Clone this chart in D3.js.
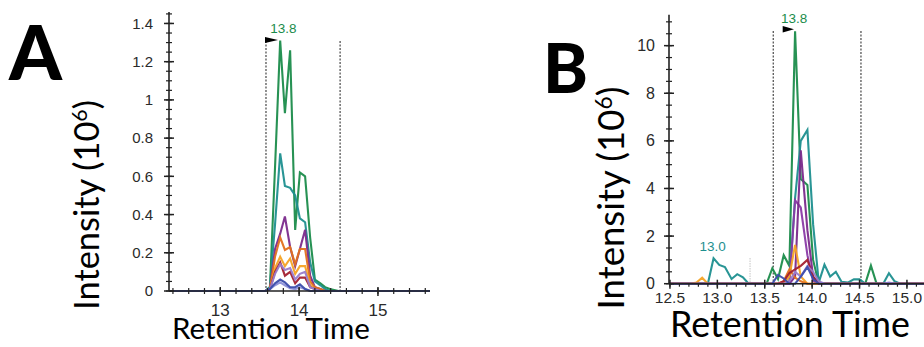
<!DOCTYPE html>
<html><head><meta charset="utf-8">
<script src="https://cdn.jsdelivr.net/npm/d3@7"></script>
<style>
html,body{margin:0;padding:0;background:#fff;}
svg{display:block;}
</style></head>
<body>
<svg id="chart" width="924" height="347"></svg>
<script>
// ---------------- DATA ----------------
// Panel A (retention time, intensity in 10^6)
const aTime = [12.35, 13.50, 13.57, 13.63, 13.695, 13.76, 13.82, 13.886, 13.95, 14.01, 14.076, 14.14, 14.20, 14.27, 14.33, 14.39, 14.50, 15.66];
const aGreen   = [0, 0, 0, 0.02, 0.65, 1.31, 0.93, 1.26, 0.32, 0.62, 0.60, 0.28, 0.06, 0.04, 0.02, 0.01, 0, 0];
const aTeal    = [0, 0, 0, 0.02, 0.35, 0.72, 0.55, 0.54, 0.50, 0.38, 0.36, 0.15, 0.05, 0.03, 0.01, 0, 0, 0];
const aPurple  = [0, 0, 0, 0.01, 0.22, 0.30, 0.39, 0.23, 0.13, 0.22, 0.32, 0.08, 0.02, 0.01, 0, 0, 0, 0];
const aOrange  = [0, 0, 0, 0.01, 0.18, 0.28, 0.215, 0.23, 0.14, 0.22, 0.22, 0.05, 0.02, 0.01, 0, 0, 0, 0];
const aYellow  = [0, 0, 0, 0.01, 0.12, 0.18, 0.13, 0.17, 0.09, 0.13, 0.13, 0.03, 0.01, 0, 0, 0, 0, 0];
const aRed     = [0, 0, 0, 0.01, 0.10, 0.15, 0.08, 0.10, 0.04, 0.07, 0.07, 0.02, 0.01, 0, 0, 0, 0, 0];
const aLilac   = [0, 0, 0, 0.01, 0.09, 0.14, 0.11, 0.12, 0.06, 0.09, 0.10, 0.02, 0.01, 0, 0, 0, 0, 0];
const aSky     = [0, 0, 0, 0.01, 0.03, 0.045, 0.03, 0.015, 0.01, 0.02, 0.01, 0, 0, 0, 0, 0, 0, 0];
const aBlue    = [0, 0, 0, 0.01, 0.04, 0.06, 0.045, 0.02, 0.02, 0.035, 0.01, 0, 0, 0, 0, 0, 0, 0];
const aWindow = [13.58, 14.52];
const aApex = 13.8;

// Panel B
const bTime = [12.49, 12.72, 12.78, 12.84, 12.90, 12.96, 13.02, 13.08, 13.15, 13.21, 13.27, 13.33, 13.39, 13.45,
               13.52, 13.58, 13.64, 13.70, 13.76, 13.82, 13.88, 13.95, 14.01, 14.07, 14.13, 14.19, 14.25, 14.31,
               14.38, 14.44, 14.50, 14.56, 14.62, 14.68, 14.75, 14.81, 14.87, 14.93, 15.18];
const bGreen   = [0,0,0,0,0,0,0,0,0,0,0,0,0,0, 0,0.65,0.2,1.2,0.75,10.6,4.4,4.15,1.0,0,0,0,0,0, 0,0,0,0,0.76,0,0,0,0,0,0];
const bTeal    = [0,0,0,0,0,1.07,0.79,0.70,0.20,0.40,0.27,0,0,0, 0,0,0,0,0.05,3.6,6.0,6.46,2.5,0.05,0.8,0.3,0.5,0.08, 0.05,0.18,0.18,0,0,0,0,0.44,0.1,0,0];
const bPurple  = [0,0,0,0,0,0,0,0,0,0,0,0,0,0, 0,0,0,0,0,0.3,5.6,2.25,0.3,0,0,0,0,0, 0,0,0,0,0,0,0,0,0,0,0];
const bViolet  = [0,0,0,0,0,0,0,0,0,0,0,0,0,0, 0,0,0,0,0,3.5,3.2,1.2,0.1,0,0,0,0,0, 0,0,0,0,0,0,0,0,0,0,0];
const bYellow  = [0,0,0.05,0.25,0,0,0,0,0,0,0,0,0,0, 0,0,0,0,0.3,1.63,0.3,0,0,0,0,0,0,0, 0,0,0,0,0,0,0,0,0,0,0];
const bOrange  = [0,0,0,0,0,0,0,0,0,0,0,0,0,0, 0,0,0,0.1,0.6,0.25,0.1,0,0,0,0,0,0,0, 0,0,0,0,0,0,0,0,0,0,0];
const bRed     = [0,0,0,0,0,0,0,0,0,0,0,0,0,0, 0,0,0,0.1,0.45,0.6,0.75,1.0,0.3,0,0,0,0,0, 0,0,0,0,0,0,0,0,0,0,0];
const bLilac   = [0,0,0,0,0,0,0,0,0,0,0,0,0,0, 0,0,0,0,0.1,0.5,0.3,0.75,0.5,0.1,0,0,0,0, 0,0,0,0,0,0,0,0.05,0,0,0];
const bBlue    = [0,0,0,0,0,0,0,0,0,0,0,0,0,0, 0,0,0.37,0.22,0,0,0.3,0.7,0.2,0,0,0,0,0, 0,0,0,0,0,0,0,0,0,0,0];
const bWindow = [13.59, 14.515];
const bApex = 13.82;
const bOtherApex = 12.96;
const bFaint = 13.345;

// Tick labels
const aXTicks = [13, 14, 15];
const aYTicks = [0, 0.2, 0.4, 0.6, 0.8, 1, 1.2, 1.4];
const bXTicks = [12.5, 13.0, 13.5, 14.0, 14.5, 15.0];
const bYTicks = [0, 2, 4, 6, 8, 10];

const colors = {green:"#1b8c4b", teal:"#1e8f8f", purple:"#7b2a8c", violet:"#8a3aa6", orange:"#e2701d",
                yellow:"#f5a324", red:"#a3202f", lilac:"#9a7cc9", sky:"#8c90d8", blue:"#3c4dab"};

const aSeries = [
  {v:aGreen, c:colors.green}, {v:aTeal, c:colors.teal}, {v:aPurple, c:colors.purple},
  {v:aOrange, c:colors.orange}, {v:aYellow, c:colors.yellow}, {v:aRed, c:colors.red},
  {v:aLilac, c:colors.lilac}, {v:aSky, c:colors.sky}, {v:aBlue, c:colors.blue}];
const bSeries = [
  {v:bGreen, c:colors.green}, {v:bTeal, c:colors.teal}, {v:bViolet, c:colors.violet},
  {v:bPurple, c:colors.purple}, {v:bYellow, c:colors.yellow}, {v:bOrange, c:colors.orange},
  {v:bRed, c:colors.red}, {v:bLilac, c:colors.lilac}, {v:bBlue, c:colors.blue}];

// ---------------- DRAW ----------------
const svg = d3.select("#chart");
const tickFont = "'Liberation Sans', Arial, sans-serif";
const titleFont = "Lato, 'Open Sans', sans-serif";

function fitWidth(sel, target){
  const w = sel.node().getComputedTextLength();
  const fs = parseFloat(sel.attr("font-size"));
  sel.attr("font-size", fs * target / w);
}

function panel(cfg){
  const g = svg.append("g");
  const x = d3.scaleLinear().domain(cfg.xDom).range(cfg.xRange);
  const y = d3.scaleLinear().domain(cfg.yDom).range(cfg.yRange);
  const x0 = cfg.xRange[0], y0 = y(0);

  cfg.window.forEach(t => {
    g.append("line").attr("x1", x(t)).attr("x2", x(t)).attr("y1", cfg.dashTop).attr("y2", y0)
      .attr("stroke", "#555").attr("stroke-width", 1.3).attr("stroke-dasharray", "2,1.5");
  });
  if (cfg.faint) {
    g.append("line").attr("x1", x(cfg.faint)).attr("x2", x(cfg.faint)).attr("y1", y(1.08)).attr("y2", y0)
      .attr("stroke", "#cfcfcf").attr("stroke-width", 1.2).attr("stroke-dasharray", "1.5,1");
  }

  const line = d3.line().x((d,i) => x(cfg.time[i])).y(d => y(d));
  cfg.series.forEach(s => {
    g.append("path").datum(s.v).attr("d", line).attr("fill", "none")
      .attr("stroke", s.c).attr("stroke-width", 2.1).attr("stroke-linejoin", "miter").attr("opacity", 0.95);
  });

  g.append("line").attr("x1", x0).attr("x2", cfg.xRange[1]).attr("y1", y0).attr("y2", y0)
    .attr("stroke", "#222").attr("stroke-width", 1.6);
  g.append("line").attr("x1", x0).attr("x2", x0).attr("y1", cfg.yRange[1]).attr("y2", y0)
    .attr("stroke", "#222").attr("stroke-width", 1.6);

  cfg.yMinor.forEach(v => {
    g.append("line").attr("x1", x0 - 3).attr("x2", x0 + 3).attr("y1", y(v)).attr("y2", y(v))
      .attr("stroke", "#222").attr("stroke-width", 1.2);
  });
  cfg.yTicks.forEach(v => {
    g.append("line").attr("x1", x0 - 5).attr("x2", x0 + 5).attr("y1", y(v)).attr("y2", y(v))
      .attr("stroke", "#222").attr("stroke-width", 1.5);
    g.append("text").attr("x", cfg.yLabelX).attr("y", y(v)).attr("dy", "0.35em")
      .attr("text-anchor", "end").attr("font-family", tickFont).attr("font-size", cfg.yFont)
      .attr("fill", "#2a2a2a").text(cfg.yFmt(v));
  });
  cfg.xMinor.forEach(v => {
    g.append("line").attr("x1", x(v)).attr("x2", x(v)).attr("y1", y0 - cfg.minorUp).attr("y2", y0 + 3)
      .attr("stroke", "#222").attr("stroke-width", 1.2);
  });
  cfg.xTicks.forEach(v => {
    g.append("line").attr("x1", x(v)).attr("x2", x(v)).attr("y1", y0 - 4).attr("y2", y0 + 5)
      .attr("stroke", "#222").attr("stroke-width", 1.5);
    g.append("text").attr("x", x(v)).attr("y", cfg.xLabelY)
      .attr("text-anchor", "middle").attr("font-family", tickFont).attr("font-size", cfg.xFont)
      .attr("fill", "#2a2a2a").text(cfg.xFmt(v));
  });

  g.append("path").attr("d", cfg.flag).attr("fill", "#000");
  return {x, y, g};
}

const A = panel({
  xDom:[12.35, 15.66], xRange:[169, 430], yDom:[0, 1.46], yRange:[291, 12],
  time:aTime, series:aSeries, window:aWindow, dashTop:41,
  yTicks:aYTicks, yMinor:d3.range(0, 1.46, 0.05), yLabelX:153, yFont:15, yFmt:d => String(d),
  xTicks:aXTicks, xMinor:d3.range(12.4, 15.61, 0.2), minorUp:3, xLabelY:316, xFont:17, xFmt:d => String(d),
  flag:"M265,37 L278,40 L265,43 Z"
});
A.g.append("text").attr("x", A.x(aApex)).attr("y", 32.5).attr("text-anchor", "middle")
  .attr("font-family", tickFont).attr("font-size", 13.5).attr("fill", colors.green).text(aApex.toFixed(1));

const B = panel({
  xDom:[12.49, 15.18], xRange:[669, 924], yDom:[0, 11.3], yRange:[283.7, 14.7],
  time:bTime, series:bSeries, window:bWindow, dashTop:31, faint:bFaint,
  yTicks:bYTicks, yMinor:d3.range(0, 11.3, 0.5), yLabelX:655, yFont:16, yFmt:d => String(d),
  xTicks:bXTicks, xMinor:d3.range(12.5, 15.15, 0.1), minorUp:0, xLabelY:303, xFont:15.5, xFmt:d => d.toFixed(1),
  flag:"M782.7,26 L794,29.3 L782.7,32.5 Z"
});
B.g.append("text").attr("x", B.x(bApex) - 1).attr("y", 22.7).attr("text-anchor", "middle")
  .attr("font-family", tickFont).attr("font-size", 13.5).attr("fill", colors.green).text(bApex.toFixed(1));
B.g.append("text").attr("x", B.x(bOtherApex) - 1).attr("y", 250.7).attr("text-anchor", "middle")
  .attr("font-family", tickFont).attr("font-size", 13.5).attr("fill", colors.teal).text(bOtherApex.toFixed(1));

// Axis titles
function yTitle(cy, len, bx){
  const t = svg.append("text").attr("transform", `translate(${bx},${cy}) rotate(-90)`)
    .attr("text-anchor", "middle").attr("font-family", titleFont).attr("font-size", 30).attr("fill", "#000");
  t.append("tspan").text("Intensity (10");
  t.append("tspan").attr("font-size", "0.62em").attr("dy", "-0.55em").text("6");
  t.append("tspan").attr("dy", "0.34em").text(")");
  const w = t.node().getComputedTextLength();
  t.attr("font-size", 30 * len / w);
  return t;
}
yTitle(205, 210, 99);
yTitle(198, 223, 624);

const xtA = svg.append("text").attr("x", 271).attr("y", 339).attr("text-anchor", "middle")
  .attr("font-family", titleFont).attr("font-size", 32).text("Retention Time");
fitWidth(xtA, 198);
const xtB = svg.append("text").attr("x", 790).attr("y", 337).attr("text-anchor", "middle")
  .attr("font-family", titleFont).attr("font-size", 34).text("Retention Time");
fitWidth(xtB, 240);

// Panel letters
const la = svg.append("text").attr("x", 9).attr("y", 80).attr("font-family", titleFont)
  .attr("font-weight", 900).attr("font-size", 80).text("A");
fitWidth(la, 53);
const lb = svg.append("text").attr("x", 543).attr("y", 93).attr("font-family", titleFont)
  .attr("font-weight", 900).attr("font-size", 80).text("B");
fitWidth(lb, 45);
</script>
</body></html>
